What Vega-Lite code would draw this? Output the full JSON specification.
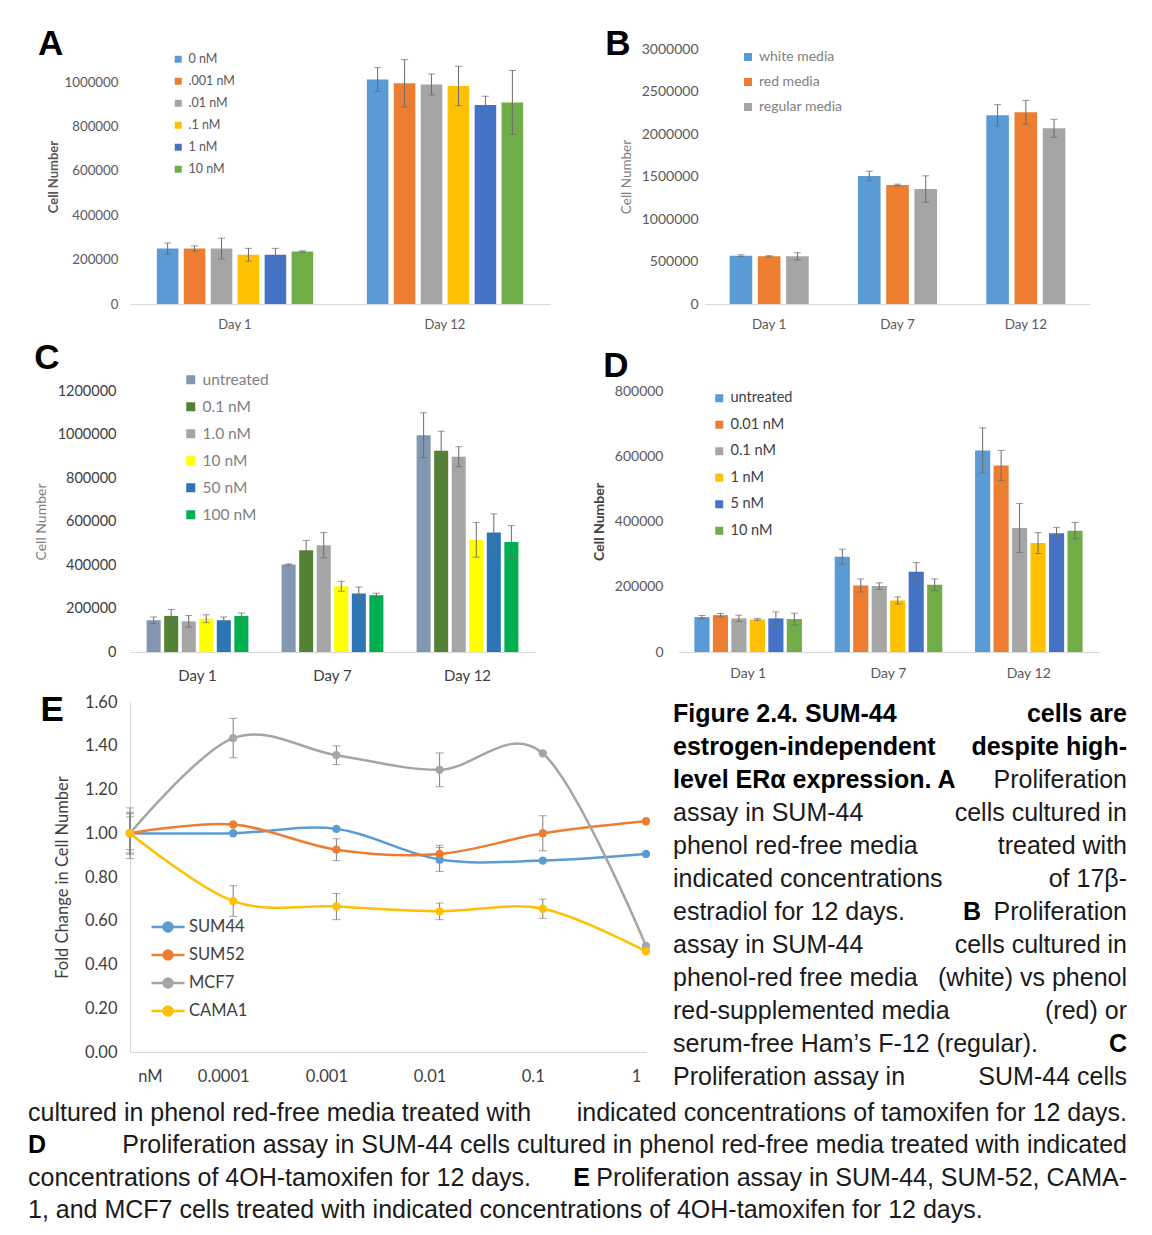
{
 "$schema": "https://vega.github.io/schema/vega-lite/v6.json",
 "background": "white",
 "padding": {"left": 28, "top": 27, "right": 5, "bottom": 5},
 "spacing": 10,
 "resolve": {"scale": {"color": "independent", "xOffset": "independent", "x": "independent", "y": "independent"}, "legend": {"color": "independent"}},
 "config": {
  "view": {"stroke": null},
  "font": "Lato",
  "axis": {"labelFont": "Lato", "titleFont": "Lato", "labelColor": "#595959", "titleColor": "#595959", "domainColor": "#D9D9D9", "ticks": false, "grid": false, "titleFontWeight": "normal"},
  "legend": {"labelFont": "Lato", "labelColor": "#595959", "symbolType": "square", "orient": "none", "padding": 0, "symbolStrokeWidth": 0},
  "title": {"font": "Liberation Sans", "fontSize": 35, "fontWeight": "bold", "anchor": "start", "color": "#000000", "offset": 0}
 },
 "vconcat": [
  {"spacing": 55,
   "resolve": {"scale": {"color": "independent", "xOffset": "independent", "x": "independent", "y": "independent"}, "legend": {"color": "independent"}},
   "hconcat": [
   {"width": 420, "height": 255,
    "title": {"text": "A", "dy": 17, "dx": -9},
    "data": {"values": [
     {"day":"Day 1","conc":"0 nM","cells":250000,"lo":225000,"hi":275000},
     {"day":"Day 1","conc":".001 nM","cells":250000,"lo":238000,"hi":262000},
     {"day":"Day 1","conc":".01 nM","cells":250000,"lo":203000,"hi":297000},
     {"day":"Day 1","conc":".1 nM","cells":222000,"lo":193000,"hi":251000},
     {"day":"Day 1","conc":"1 nM","cells":222000,"lo":193000,"hi":251000},
     {"day":"Day 1","conc":"10 nM","cells":237000,"lo":234000,"hi":240000},
     {"day":"Day 12","conc":"0 nM","cells":1012000,"lo":958000,"hi":1066000},
     {"day":"Day 12","conc":".001 nM","cells":995000,"lo":888000,"hi":1102000},
     {"day":"Day 12","conc":".01 nM","cells":990000,"lo":943000,"hi":1037000},
     {"day":"Day 12","conc":".1 nM","cells":983000,"lo":894000,"hi":1072000},
     {"day":"Day 12","conc":"1 nM","cells":897000,"lo":857000,"hi":937000},
     {"day":"Day 12","conc":"10 nM","cells":909000,"lo":765000,"hi":1053000}
    ]},
    "encoding": {
     "x": {"field": "day", "type": "nominal", "sort": ["Day 1", "Day 12"], "title": null, "scale": {"paddingInner": 0.23, "paddingOuter": 0.115}, "axis": {"labelAngle": 0, "labelFontSize": 13, "labelPadding": 14}},
     "xOffset": {"field": "conc", "type": "nominal", "sort": ["0 nM", ".001 nM", ".01 nM", ".1 nM", "1 nM", "10 nM"], "scale": {"paddingInner": 0.2, "paddingOuter": 0.1}}
    },
    "layer": [
     {"mark": {"type": "bar"}, "encoding": {
       "y": {"field": "cells", "type": "quantitative", "title": "Cell Number", "scale": {"domain": [0, 1150000], "nice": false}, "axis": {"values": [0, 200000, 400000, 600000, 800000, 1000000], "format": "d", "domain": false, "labelFontSize": 13.3, "labelPadding": 12, "titleFontSize": 13, "titleFontWeight": "bold", "titlePadding": 4}},
       "color": {"field": "conc", "type": "nominal", "scale": {"domain": ["0 nM", ".001 nM", ".01 nM", ".1 nM", "1 nM", "10 nM"], "range": ["#5B9BD5", "#ED7D31", "#A5A5A5", "#FFC000", "#4472C4", "#70AD47"]}, "legend": {"title": null, "orient": "none", "legendX": 42, "legendY": 4, "labelFontSize": 12.5, "symbolSize": 49, "rowPadding": 9}}
     }},
     {"mark": {"type": "rule", "color": "#6b6b6b", "strokeWidth": 1}, "encoding": {"y": {"field": "lo", "type": "quantitative", "title": "Cell Number", "scale": {"domain": [0, 1150000], "nice": false}}, "y2": {"field": "hi"}}},
     {"mark": {"type": "tick", "color": "#6b6b6b", "thickness": 1, "size": 7}, "encoding": {"y": {"field": "lo", "type": "quantitative", "title": "Cell Number", "scale": {"domain": [0, 1150000], "nice": false}}}},
     {"mark": {"type": "tick", "color": "#6b6b6b", "thickness": 1, "size": 7}, "encoding": {"y": {"field": "hi", "type": "quantitative", "title": "Cell Number", "scale": {"domain": [0, 1150000], "nice": false}}}}
    ]
   },
   {"width": 385, "height": 255,
    "title": {"text": "B", "dy": 24, "dx": -14},
    "data": {"values": [
     {"day":"Day 1","media":"white media","cells":569000,"lo":559000,"hi":579000},
     {"day":"Day 1","media":"red media","cells":561000,"lo":553000,"hi":569000},
     {"day":"Day 1","media":"regular media","cells":561000,"lo":518000,"hi":604000},
     {"day":"Day 7","media":"white media","cells":1506000,"lo":1449000,"hi":1563000},
     {"day":"Day 7","media":"red media","cells":1400000,"lo":1390000,"hi":1410000},
     {"day":"Day 7","media":"regular media","cells":1353000,"lo":1198000,"hi":1508000},
     {"day":"Day 12","media":"white media","cells":2220000,"lo":2095000,"hi":2345000},
     {"day":"Day 12","media":"red media","cells":2255000,"lo":2115000,"hi":2395000},
     {"day":"Day 12","media":"regular media","cells":2067000,"lo":1961000,"hi":2173000}
    ]},
    "encoding": {
     "x": {"field": "day", "type": "nominal", "sort": ["Day 1", "Day 7", "Day 12"], "title": null, "scale": {"paddingInner": 0.34, "paddingOuter": 0.17}, "axis": {"labelAngle": 0, "labelFontSize": 13.5, "labelPadding": 13}},
     "xOffset": {"field": "media", "type": "nominal", "sort": ["white media", "red media", "regular media"], "scale": {"paddingInner": 0.2, "paddingOuter": 0.1}}
    },
    "layer": [
     {"mark": {"type": "bar"}, "encoding": {
       "y": {"field": "cells", "type": "quantitative", "title": "Cell Number", "scale": {"domain": [0, 3000000], "nice": false}, "axis": {"values": [0, 500000, 1000000, 1500000, 2000000, 2500000, 3000000], "format": "d", "domain": false, "labelFontSize": 14, "labelPadding": 7, "titleFontSize": 13.5, "titleColor": "#7f7f7f", "titlePadding": 8}},
       "color": {"field": "media", "type": "nominal", "scale": {"domain": ["white media", "red media", "regular media"], "range": ["#5B9BD5", "#ED7D31", "#A5A5A5"]}, "legend": {"title": null, "orient": "none", "legendX": 36, "legendY": 1, "labelFontSize": 14, "labelColor": "#808080", "symbolSize": 64, "rowPadding": 11}}
     }},
     {"mark": {"type": "rule", "color": "#6b6b6b", "strokeWidth": 1}, "encoding": {"y": {"field": "lo", "type": "quantitative", "title": "Cell Number", "scale": {"domain": [0, 3000000], "nice": false}}, "y2": {"field": "hi"}}},
     {"mark": {"type": "tick", "color": "#6b6b6b", "thickness": 1, "size": 7}, "encoding": {"y": {"field": "lo", "type": "quantitative", "title": "Cell Number", "scale": {"domain": [0, 3000000], "nice": false}}}},
     {"mark": {"type": "tick", "color": "#6b6b6b", "thickness": 1, "size": 7}, "encoding": {"y": {"field": "hi", "type": "quantitative", "title": "Cell Number", "scale": {"domain": [0, 3000000], "nice": false}}}}
    ]
   }
  ]},
  {"spacing": 57,
   "resolve": {"scale": {"color": "independent", "xOffset": "independent", "x": "independent", "y": "independent"}, "legend": {"color": "independent"}},
   "hconcat": [
   {"width": 405, "height": 261,
    "title": {"text": "C", "dy": 8, "dx": 0},
    "data": {"values": [
     {"day":"Day 1","dose":"untreated","cells":146000,"lo":131000,"hi":161000},
     {"day":"Day 1","dose":"0.1 nM","cells":166000,"lo":136000,"hi":196000},
     {"day":"Day 1","dose":"1.0 nM","cells":141000,"lo":114000,"hi":168000},
     {"day":"Day 1","dose":"10 nM","cells":153000,"lo":135000,"hi":171000},
     {"day":"Day 1","dose":"50 nM","cells":146000,"lo":131000,"hi":161000},
     {"day":"Day 1","dose":"100 nM","cells":166000,"lo":153000,"hi":179000},
     {"day":"Day 7","dose":"untreated","cells":402000,"lo":399000,"hi":405000},
     {"day":"Day 7","dose":"0.1 nM","cells":468000,"lo":423000,"hi":513000},
     {"day":"Day 7","dose":"1.0 nM","cells":491000,"lo":433000,"hi":549000},
     {"day":"Day 7","dose":"10 nM","cells":302000,"lo":279000,"hi":325000},
     {"day":"Day 7","dose":"50 nM","cells":269000,"lo":239000,"hi":299000},
     {"day":"Day 7","dose":"100 nM","cells":261000,"lo":252000,"hi":270000},
     {"day":"Day 12","dose":"untreated","cells":997000,"lo":894000,"hi":1100000},
     {"day":"Day 12","dose":"0.1 nM","cells":925000,"lo":835000,"hi":1015000},
     {"day":"Day 12","dose":"1.0 nM","cells":898000,"lo":852000,"hi":944000},
     {"day":"Day 12","dose":"10 nM","cells":516000,"lo":436000,"hi":596000},
     {"day":"Day 12","dose":"50 nM","cells":549000,"lo":463000,"hi":635000},
     {"day":"Day 12","dose":"100 nM","cells":506000,"lo":431000,"hi":581000}
    ]},
    "encoding": {
     "x": {"field": "day", "type": "nominal", "sort": ["Day 1", "Day 7", "Day 12"], "title": null, "scale": {"paddingInner": 0.22, "paddingOuter": 0.11}, "axis": {"labelAngle": 0, "labelFontSize": 15, "labelPadding": 16, "labelColor": "#404040"}},
     "xOffset": {"field": "dose", "type": "nominal", "sort": ["untreated", "0.1 nM", "1.0 nM", "10 nM", "50 nM", "100 nM"], "scale": {"paddingInner": 0.2, "paddingOuter": 0.1}}
    },
    "layer": [
     {"mark": {"type": "bar"}, "encoding": {
       "y": {"field": "cells", "type": "quantitative", "title": "Cell Number", "scale": {"domain": [0, 1200000], "nice": false}, "axis": {"values": [0, 200000, 400000, 600000, 800000, 1000000, 1200000], "format": "d", "domain": false, "labelFontSize": 14.5, "labelColor": "#404040", "labelPadding": 14, "titleFontSize": 14, "titleColor": "#7f7f7f", "titlePadding": 9}},
       "color": {"field": "dose", "type": "nominal", "scale": {"domain": ["untreated", "0.1 nM", "1.0 nM", "10 nM", "50 nM", "100 nM"], "range": ["#8497B0", "#548235", "#A5A5A5", "#FFFF00", "#2E75B6", "#00B050"]}, "legend": {"title": null, "orient": "none", "legendX": 53, "legendY": -19, "labelFontSize": 15.5, "labelColor": "#7f7f7f", "symbolSize": 81, "rowPadding": 10}}
     }},
     {"mark": {"type": "rule", "color": "#6b6b6b", "strokeWidth": 1}, "encoding": {"y": {"field": "lo", "type": "quantitative", "title": "Cell Number", "scale": {"domain": [0, 1200000], "nice": false}}, "y2": {"field": "hi"}}},
     {"mark": {"type": "tick", "color": "#6b6b6b", "thickness": 1, "size": 7}, "encoding": {"y": {"field": "lo", "type": "quantitative", "title": "Cell Number", "scale": {"domain": [0, 1200000], "nice": false}}}},
     {"mark": {"type": "tick", "color": "#6b6b6b", "thickness": 1, "size": 7}, "encoding": {"y": {"field": "hi", "type": "quantitative", "title": "Cell Number", "scale": {"domain": [0, 1200000], "nice": false}}}}
    ]
   },
   {"width": 421, "height": 261,
    "title": {"text": "D", "dy": 4, "dx": 11},
    "data": {"values": [
     {"day":"Day 1","dose":"untreated","cells":107000,"lo":102000,"hi":112000},
     {"day":"Day 1","dose":"0.01 nM","cells":113000,"lo":108000,"hi":118000},
     {"day":"Day 1","dose":"0.1 nM","cells":103000,"lo":93000,"hi":113000},
     {"day":"Day 1","dose":"1 nM","cells":100000,"lo":97000,"hi":103000},
     {"day":"Day 1","dose":"5 nM","cells":103000,"lo":83000,"hi":123000},
     {"day":"Day 1","dose":"10 nM","cells":101000,"lo":83000,"hi":119000},
     {"day":"Day 7","dose":"untreated","cells":292000,"lo":269000,"hi":315000},
     {"day":"Day 7","dose":"0.01 nM","cells":204000,"lo":184000,"hi":224000},
     {"day":"Day 7","dose":"0.1 nM","cells":202000,"lo":192000,"hi":212000},
     {"day":"Day 7","dose":"1 nM","cells":158000,"lo":147000,"hi":169000},
     {"day":"Day 7","dose":"5 nM","cells":246000,"lo":218000,"hi":274000},
     {"day":"Day 7","dose":"10 nM","cells":206000,"lo":188000,"hi":224000},
     {"day":"Day 12","dose":"untreated","cells":618000,"lo":549000,"hi":687000},
     {"day":"Day 12","dose":"0.01 nM","cells":572000,"lo":526000,"hi":618000},
     {"day":"Day 12","dose":"0.1 nM","cells":380000,"lo":305000,"hi":455000},
     {"day":"Day 12","dose":"1 nM","cells":334000,"lo":302000,"hi":366000},
     {"day":"Day 12","dose":"5 nM","cells":364000,"lo":346000,"hi":382000},
     {"day":"Day 12","dose":"10 nM","cells":372000,"lo":347000,"hi":397000}
    ]},
    "encoding": {
     "x": {"field": "day", "type": "nominal", "sort": ["Day 1", "Day 7", "Day 12"], "title": null, "scale": {"paddingInner": 0.21, "paddingOuter": 0.105}, "axis": {"labelAngle": 0, "labelFontSize": 14, "labelPadding": 14}},
     "xOffset": {"field": "dose", "type": "nominal", "sort": ["untreated", "0.01 nM", "0.1 nM", "1 nM", "5 nM", "10 nM"], "scale": {"paddingInner": 0.18, "paddingOuter": 0.09}}
    },
    "layer": [
     {"mark": {"type": "bar"}, "encoding": {
       "y": {"field": "cells", "type": "quantitative", "title": "Cell Number", "scale": {"domain": [0, 800000], "nice": false}, "axis": {"values": [0, 100000, 200000, 300000, 400000, 500000, 600000, 700000, 800000], "format": "d", "domain": false, "labelFontSize": 14, "labelPadding": 15, "titleFontSize": 14, "titleFontWeight": "bold", "titleColor": "#404040", "titlePadding": 8}},
       "color": {"field": "dose", "type": "nominal", "scale": {"domain": ["untreated", "0.01 nM", "0.1 nM", "1 nM", "5 nM", "10 nM"], "range": ["#5B9BD5", "#ED7D31", "#A5A5A5", "#FFC000", "#4472C4", "#70AD47"]}, "legend": {"title": null, "orient": "none", "legendX": 34, "legendY": 0, "labelFontSize": 14.5, "labelColor": "#404040", "symbolSize": 64, "rowPadding": 11.5}}
     }},
     {"mark": {"type": "rule", "color": "#6b6b6b", "strokeWidth": 1}, "encoding": {"y": {"field": "lo", "type": "quantitative", "title": "Cell Number", "scale": {"domain": [0, 800000], "nice": false}}, "y2": {"field": "hi"}}},
     {"mark": {"type": "tick", "color": "#6b6b6b", "thickness": 1, "size": 7}, "encoding": {"y": {"field": "lo", "type": "quantitative", "title": "Cell Number", "scale": {"domain": [0, 800000], "nice": false}}}},
     {"mark": {"type": "tick", "color": "#6b6b6b", "thickness": 1, "size": 7}, "encoding": {"y": {"field": "hi", "type": "quantitative", "title": "Cell Number", "scale": {"domain": [0, 800000], "nice": false}}}}
    ]
   }
  ]},
  {"spacing": 22,
   "resolve": {"scale": {"color": "independent", "x": "independent", "y": "independent"}, "legend": {"color": "independent"}},
   "hconcat": [
   {"width": 516, "height": 350,
    "title": {"text": "E", "dy": 38, "dx": -14},
    "data": {"values": [
     {"line":"SUM44","dose":"nM","fold":1.0},{"line":"SUM44","dose":"0.0001","fold":1.0},{"line":"SUM44","dose":"0.001","fold":1.02},{"line":"SUM44","dose":"0.01","fold":0.88},{"line":"SUM44","dose":"0.1","fold":0.875},{"line":"SUM44","dose":"1","fold":0.905},
     {"line":"SUM52","dose":"nM","fold":1.0},{"line":"SUM52","dose":"0.0001","fold":1.04},{"line":"SUM52","dose":"0.001","fold":0.925},{"line":"SUM52","dose":"0.01","fold":0.905},{"line":"SUM52","dose":"0.1","fold":1.0},{"line":"SUM52","dose":"1","fold":1.055},
     {"line":"MCF7","dose":"nM","fold":1.0},{"line":"MCF7","dose":"0.0001","fold":1.435},{"line":"MCF7","dose":"0.001","fold":1.357},{"line":"MCF7","dose":"0.01","fold":1.29},{"line":"MCF7","dose":"0.1","fold":1.365},{"line":"MCF7","dose":"1","fold":0.485},
     {"line":"CAMA1","dose":"nM","fold":1.0},{"line":"CAMA1","dose":"0.0001","fold":0.69},{"line":"CAMA1","dose":"0.001","fold":0.665},{"line":"CAMA1","dose":"0.01","fold":0.643},{"line":"CAMA1","dose":"0.1","fold":0.655},{"line":"CAMA1","dose":"1","fold":0.46}
    ]},
    "encoding": {
     "x": {"field": "dose", "type": "ordinal", "sort": ["nM", "0.0001", "0.001", "0.01", "0.1", "1"], "title": null, "scale": {"type": "point", "padding": 0}, "axis": {"labelAngle": 0, "labelFontSize": 16.5, "labelPadding": 16, "labelColor": "#404040", "labelOffset": {"condition": {"test": "datum.value === 'nM'", "value": 20}, "value": -10}}}
    },
    "layer": [
     {"mark": {"type": "line", "interpolate": "cardinal", "strokeWidth": 2.5}, "encoding": {
       "y": {"field": "fold", "type": "quantitative", "title": "Fold Change in Cell Number", "scale": {"domain": [0, 1.6], "nice": false}, "axis": {"values": [0, 0.2, 0.4, 0.6, 0.8, 1.0, 1.2, 1.4, 1.6], "format": ".2f", "labelFontSize": 16.5, "labelColor": "#404040", "labelPadding": 13, "titleFontSize": 16.5, "titleColor": "#404040", "titlePadding": 14}},
       "color": {"field": "line", "type": "nominal", "scale": {"domain": ["SUM44", "SUM52", "MCF7", "CAMA1"], "range": ["#5B9BD5", "#ED7D31", "#A5A5A5", "#FFC000"]}, "legend": {"title": null, "orient": "none", "legendX": 20, "legendY": 207, "labelFontSize": 16.5, "labelColor": "#404040", "symbolType": "M-1,0L1,0M-0.27,0A0.27,0.27 0 1,0 0.27,0A0.27,0.27 0 1,0 -0.27,0", "symbolSize": 1089, "symbolStrokeWidth": 2.5, "rowPadding": 0, "labelOffset": 3}}
     }},
     {"data": {"values": [
       {"line":"SUM44","dose":"nM","lo":0.884,"hi":1.116},{"line":"SUM52","dose":"nM","lo":0.904,"hi":1.096},{"line":"MCF7","dose":"nM","lo":0.925,"hi":1.075},{"line":"CAMA1","dose":"nM","lo":0.91,"hi":1.09},
       {"line":"SUM44","dose":"0.01","lo":0.825,"hi":0.935},
       {"line":"SUM52","dose":"0.001","lo":0.875,"hi":0.975},{"line":"SUM52","dose":"0.01","lo":0.865,"hi":0.945},{"line":"SUM52","dose":"0.1","lo":0.92,"hi":1.08},
       {"line":"MCF7","dose":"0.0001","lo":1.345,"hi":1.525},{"line":"MCF7","dose":"0.001","lo":1.314,"hi":1.4},{"line":"MCF7","dose":"0.01","lo":1.213,"hi":1.367},
       {"line":"CAMA1","dose":"0.0001","lo":0.62,"hi":0.76},{"line":"CAMA1","dose":"0.001","lo":0.605,"hi":0.725},{"line":"CAMA1","dose":"0.01","lo":0.605,"hi":0.681},{"line":"CAMA1","dose":"0.1","lo":0.611,"hi":0.699}
      ]},
      "layer": [
       {"mark": {"type": "rule", "color": "#7f7f7f", "strokeWidth": 1}, "encoding": {"y": {"field": "lo", "type": "quantitative", "title": "Fold Change in Cell Number", "scale": {"domain": [0, 1.6], "nice": false}}, "y2": {"field": "hi"}}},
       {"mark": {"type": "tick", "color": "#7f7f7f", "thickness": 1, "size": 8}, "encoding": {"y": {"field": "lo", "type": "quantitative", "title": "Fold Change in Cell Number", "scale": {"domain": [0, 1.6], "nice": false}}}},
       {"mark": {"type": "tick", "color": "#7f7f7f", "thickness": 1, "size": 8}, "encoding": {"y": {"field": "hi", "type": "quantitative", "title": "Fold Change in Cell Number", "scale": {"domain": [0, 1.6], "nice": false}}}}
      ]
     },
     {"mark": {"type": "point", "filled": true, "size": 70, "opacity": 1}, "encoding": {
       "y": {"field": "fold", "type": "quantitative", "title": "Fold Change in Cell Number", "scale": {"domain": [0, 1.6], "nice": false}},
       "color": {"field": "line", "type": "nominal", "scale": {"domain": ["SUM44", "SUM52", "MCF7", "CAMA1"], "range": ["#5B9BD5", "#ED7D31", "#A5A5A5", "#FFC000"]}}
     }}
    ]
   },
   {"width": 454, "height": 387,
    "data": {"values": [
     {"row":1,"part":"start","strong":true,"text":"Figure 2.4. SUM-44"},
     {"row":1,"part":"end","strong":true,"text":"cells are"},
     {"row":2,"part":"start","strong":true,"text":"estrogen-independent"},
     {"row":2,"part":"end","strong":true,"text":"despite high-"},
     {"row":3,"part":"start","strong":true,"text":"level ERα expression. A"},
     {"row":3,"part":"end","strong":false,"text":"Proliferation"},
     {"row":4,"part":"start","strong":false,"text":"assay in SUM-44"},
     {"row":4,"part":"end","strong":false,"text":"cells cultured in"},
     {"row":5,"part":"start","strong":false,"text":"phenol red-free media"},
     {"row":5,"part":"end","strong":false,"text":"treated with"},
     {"row":6,"part":"start","strong":false,"text":"indicated concentrations"},
     {"row":6,"part":"end","strong":false,"text":"of 17β-"},
     {"row":7,"part":"start","strong":false,"text":"estradiol for 12 days."},
     {"row":7,"part":"mid","strong":true,"text":"B"},
     {"row":7,"part":"end","strong":false,"text":"Proliferation"},
     {"row":8,"part":"start","strong":false,"text":"assay in SUM-44"},
     {"row":8,"part":"end","strong":false,"text":"cells cultured in"},
     {"row":9,"part":"start","strong":false,"text":"phenol-red free media"},
     {"row":9,"part":"end","strong":false,"text":"(white) vs phenol"},
     {"row":10,"part":"start","strong":false,"text":"red-supplemented media"},
     {"row":10,"part":"end","strong":false,"text":"(red) or"},
     {"row":11,"part":"start","strong":false,"text":"serum-free Ham’s F-12 (regular)."},
     {"row":11,"part":"end","strong":true,"text":"C"},
     {"row":12,"part":"start","strong":false,"text":"Proliferation assay in"},
     {"row":12,"part":"end","strong":false,"text":"SUM-44 cells"}
    ]},
    "encoding": {
     "y": {"field": "row", "type": "ordinal", "scale": {"type": "point", "padding": 0.364}, "axis": null},
     "text": {"field": "text"}
    },
    "layer": [
     {"transform": [{"filter": "datum.part === 'start' && !datum.strong"}], "mark": {"type": "text", "align": "left", "baseline": "middle", "font": "Liberation Sans", "fontSize": 25, "color": "#1a1a1a"}, "encoding": {"x": {"value": 0}}},
     {"transform": [{"filter": "datum.part === 'start' && datum.strong"}], "mark": {"type": "text", "align": "left", "baseline": "middle", "font": "Liberation Sans", "fontSize": 25, "fontWeight": "bold", "color": "#000000"}, "encoding": {"x": {"value": 0}}},
     {"transform": [{"filter": "datum.part === 'end' && !datum.strong"}], "mark": {"type": "text", "align": "right", "baseline": "middle", "font": "Liberation Sans", "fontSize": 25, "color": "#1a1a1a"}, "encoding": {"x": {"value": "width"}}},
     {"transform": [{"filter": "datum.part === 'end' && datum.strong"}], "mark": {"type": "text", "align": "right", "baseline": "middle", "font": "Liberation Sans", "fontSize": 25, "fontWeight": "bold", "color": "#000000"}, "encoding": {"x": {"value": "width"}}},
     {"transform": [{"filter": "datum.part === 'mid'"}], "mark": {"type": "text", "align": "right", "baseline": "middle", "font": "Liberation Sans", "fontSize": 25, "fontWeight": "bold", "color": "#000000", "dx": -146}, "encoding": {"x": {"value": "width"}}}
    ]
   }
  ]},
  {"width": 997, "height": 121,
   "data": {"values": [
    {"row":1,"part":"start","strong":false,"text":"cultured in phenol red-free media treated with"},
    {"row":1,"part":"end","strong":false,"text":"indicated concentrations of tamoxifen for 12 days."},
    {"row":2,"part":"start","strong":true,"text":"D"},
    {"row":2,"part":"end","strong":false,"text":"Proliferation assay in SUM-44 cells cultured in phenol red-free media treated with indicated"},
    {"row":3,"part":"start","strong":false,"text":"concentrations of 4OH-tamoxifen for 12 days."},
    {"row":3,"part":"mid","strong":true,"text":"E"},
    {"row":3,"part":"end","strong":false,"text":"Proliferation assay in SUM-44, SUM-52, CAMA-"},
    {"row":4,"part":"start","strong":false,"text":"1, and MCF7 cells treated with indicated concentrations of 4OH-tamoxifen for 12 days."}
   ]},
   "encoding": {
    "y": {"field": "row", "type": "ordinal", "scale": {"type": "point", "padding": 0.364}, "axis": null},
    "text": {"field": "text"}
   },
   "layer": [
    {"transform": [{"filter": "datum.part === 'start' && !datum.strong"}], "mark": {"type": "text", "align": "left", "baseline": "middle", "font": "Liberation Sans", "fontSize": 25, "color": "#1a1a1a", "dx": -102}, "encoding": {"x": {"value": 0}}},
    {"transform": [{"filter": "datum.part === 'start' && datum.strong"}], "mark": {"type": "text", "align": "left", "baseline": "middle", "font": "Liberation Sans", "fontSize": 25, "fontWeight": "bold", "color": "#000000", "dx": -102}, "encoding": {"x": {"value": 0}}},
    {"transform": [{"filter": "datum.part === 'end' && !datum.strong"}], "mark": {"type": "text", "align": "right", "baseline": "middle", "font": "Liberation Sans", "fontSize": 25, "color": "#1a1a1a"}, "encoding": {"x": {"value": "width"}}},
    {"transform": [{"filter": "datum.part === 'mid'"}], "mark": {"type": "text", "align": "right", "baseline": "middle", "font": "Liberation Sans", "fontSize": 25, "fontWeight": "bold", "color": "#000000", "dx": -537}, "encoding": {"x": {"value": "width"}}}
   ]
  }
 ]
}
